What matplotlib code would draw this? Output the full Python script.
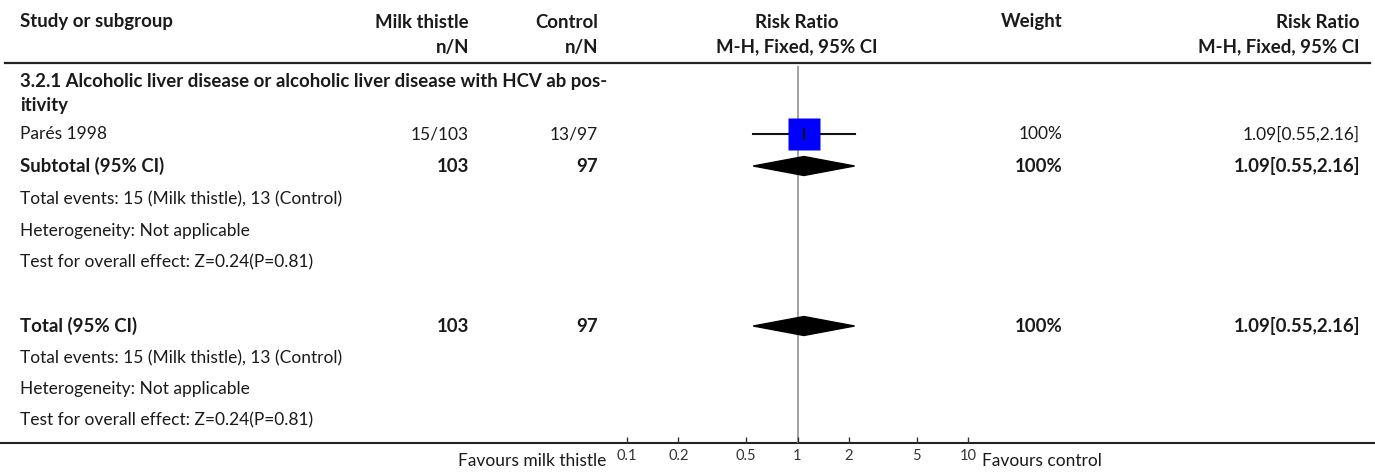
import numpy as np
import matplotlib
matplotlib.use("Agg")
import matplotlib.pyplot as plt
from matplotlib.patches import Polygon

plt.rcParams["font.family"] = ["Lato", "DejaVu Sans"]

# ---- data ----
studies = ["Parés 1998"]
ev_trt = [15]
n_trt = [103]
ev_ctl = [13]
n_ctl = [97]
rr = [1.09]
rr_lo = [0.55]
rr_hi = [2.16]
weights = ["100%"]
pooled = [1.09, 0.55, 2.16]          # subtotal and total are identical here
ticks = [0.1, 0.2, 0.5, 1, 2, 5, 10]
tick_labels = ["0.1", "0.2", "0.5", "1", "2", "5", "10"]

W, H = 1375, 473
FS = 12.5
FS_B = 13.4
DARK = "#1a1a1a"

fig = plt.figure(figsize=(W / 100, H / 100), dpi=100)
ax = fig.add_axes([0, 0, 1, 1])
ax.set_xlim(0, W); ax.set_ylim(H, 0); ax.axis("off")

# column anchors (px)
X_L, X_T, X_C, X_RR, X_W, X_R = 20, 469, 598, 797, 1063, 1360
Y_AX = 443


def row(y, cells, bold=False):
    wt = "bold" if bold else "normal"
    fs = FS_B if bold else FS
    for x, s, ha in cells:
        ax.text(x, y, s, ha=ha, va="center", fontsize=fs, fontweight=wt, color=DARK)


# header
row(22, [(X_L, "Study or subgroup", "left"), (X_T, "Milk thistle", "right"),
         (X_C, "Control", "right"), (X_RR, "Risk Ratio", "center"),
         (X_W, "Weight", "right"), (X_R, "Risk Ratio", "right")], bold=True)
row(47, [(X_T, "n/N", "right"), (X_C, "n/N", "right"),
         (X_RR, "M-H, Fixed, 95% CI", "center"), (X_R, "M-H, Fixed, 95% CI", "right")], bold=True)
ax.plot([5, 1370], [63, 63], color="#222222", lw=1.6)

row(82, [(X_L, "3.2.1 Alcoholic liver disease or alcoholic liver disease with HCV ab pos-", "left")], bold=True)
row(105, [(X_L, "itivity", "left")], bold=True)

y_study = [134]
for y, s, a, n, b, m, w, r, l, h in zip(y_study, studies, ev_trt, n_trt, ev_ctl, n_ctl,
                                        weights, rr, rr_lo, rr_hi):
    row(y, [(X_L, s, "left"), (X_T, f"{a}/{n}", "right"), (X_C, f"{b}/{m}", "right"),
            (X_W, w, "right"), (X_R, f"{r:.2f}[{l:.2f},{h:.2f}]", "right")])

summary_rows = [(166, "Subtotal (95% CI)", [199, 231, 262]),
                (326, "Total (95% CI)", [358, 389, 420])]
for y, lab, ys in summary_rows:
    row(y, [(X_L, lab, "left"), (X_T, str(sum(n_trt)), "right"), (X_C, str(sum(n_ctl)), "right"),
            (X_W, "100%", "right"),
            (X_R, f"{pooled[0]:.2f}[{pooled[1]:.2f},{pooled[2]:.2f}]", "right")], bold=True)
    row(ys[0], [(X_L, f"Total events: {sum(ev_trt)} (Milk thistle), {sum(ev_ctl)} (Control)", "left")])
    row(ys[1], [(X_L, "Heterogeneity: Not applicable", "left")])
    row(ys[2], [(X_L, "Test for overall effect: Z=0.24(P=0.81)", "left")])

ax.plot([0, W], [Y_AX, Y_AX], color="#222222", lw=1.5)
row(461, [(606, "Favours milk thistle", "right"), (982, "Favours control", "left")])

# ---- forest panel on a log axis ----
fx = fig.add_axes([627 / W, (H - Y_AX) / H, (968 - 627) / W, Y_AX / H])
fx.set_xscale("log"); fx.set_xlim(0.1, 10); fx.set_ylim(Y_AX, 0)
fx.patch.set_alpha(0)
for s in ("top", "left", "right", "bottom"):
    fx.spines[s].set_visible(False)
fx.set_yticks([])
fx.set_xticks(ticks); fx.set_xticklabels(tick_labels)
fx.minorticks_off()
fx.tick_params(axis="x", direction="in", length=4, width=1, colors="#333333",
               labelsize=10.5, pad=4)

fx.plot([1, 1], [67, Y_AX], color="#a0a0a0", lw=1.4, zorder=1)
for y, r, l, h in zip(y_study, rr, rr_lo, rr_hi):
    fx.plot([l, h], [y, y], color="#111111", lw=1.5, zorder=2)
    fx.plot([r], [y], marker="s", ms=22.5, color="#0000ff", mec="none", zorder=3)
    fx.plot([r, r], [y - 5, y + 5], color="#111111", lw=1.5, zorder=4)
for y, _, _ in summary_rows:
    r, l, h = pooled
    fx.add_patch(Polygon([(l, y), (r, y - 9.5), (h, y), (r, y + 9.5)],
                         closed=True, color="black", zorder=3))

fig.savefig("out.png", dpi=100)
